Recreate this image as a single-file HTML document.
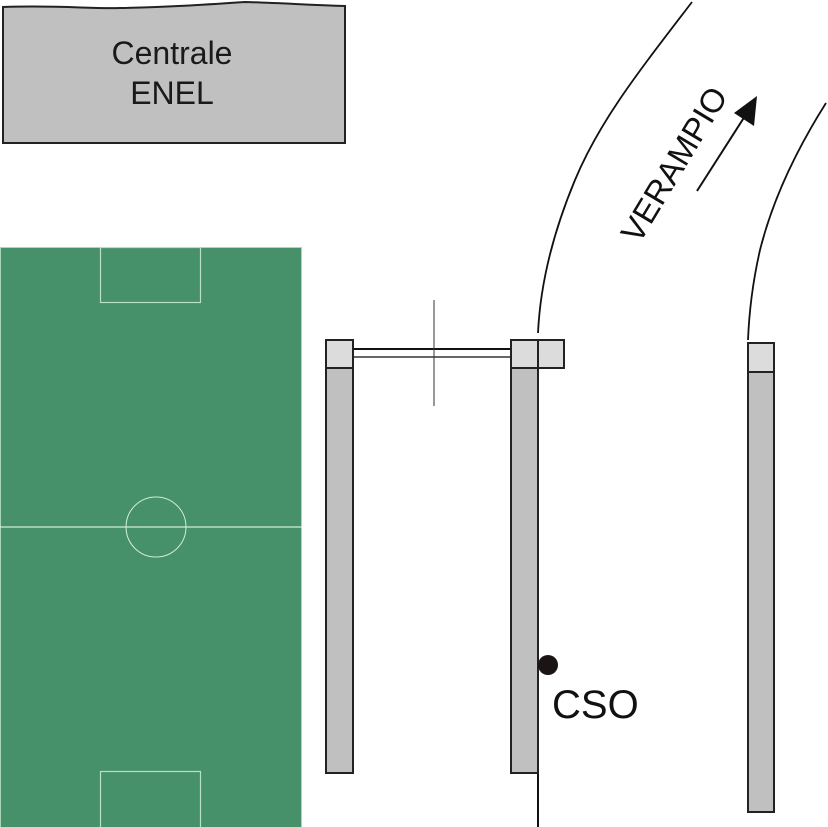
<!DOCTYPE html>
<html><head><style>html,body{margin:0;padding:0;background:#fff;}svg{display:block;}</style></head>
<body>
<svg width="828" height="827" viewBox="0 0 828 827" xmlns="http://www.w3.org/2000/svg">
<path d="M3,7 C60,5 90,9 120,8 C170,7 200,5 245,2 C280,3 310,5 345,6 L345,143 L3,143 Z" fill="#c0c0c0" stroke="#222" stroke-width="2"/>
<text x="172" y="64" font-family="Liberation Sans, sans-serif" font-size="32" text-anchor="middle" fill="#1a1a1a">Centrale</text>
<text x="172" y="104" font-family="Liberation Sans, sans-serif" font-size="32" text-anchor="middle" fill="#1a1a1a">ENEL</text>
<rect x="0" y="247" width="302" height="580" fill="#46906a"/>
<rect x="0.5" y="247.5" width="301" height="590" fill="none" stroke="#a8d8b8" stroke-width="1"/>
<rect x="100.5" y="247.5" width="100" height="55" fill="none" stroke="#b8e0c4" stroke-width="1.2"/>
<rect x="100.5" y="771.5" width="100" height="60" fill="none" stroke="#b8e0c4" stroke-width="1.2"/>
<line x1="0" y1="527" x2="302" y2="527" stroke="#d0ecd8" stroke-width="1.2"/>
<circle cx="156" cy="527" r="30" fill="none" stroke="#d0ecd8" stroke-width="1"/>
<path d="M692,2 C640,70 600,120 575,180 C550,240 540,290 538,333" fill="none" stroke="#111" stroke-width="1.8"/>
<path d="M826,103 C790,160 770,210 760,250 C752,285 749,315 748,340" fill="none" stroke="#111" stroke-width="1.8"/>
<line x1="538" y1="368" x2="538" y2="827" stroke="#111" stroke-width="2"/>
<line x1="353" y1="349" x2="511" y2="349" stroke="#111" stroke-width="2"/>
<line x1="353" y1="357" x2="511" y2="357" stroke="#333" stroke-width="1.5"/>
<line x1="434" y1="300" x2="434" y2="406" stroke="#333" stroke-width="1"/>
<rect x="326" y="368" width="27" height="405" fill="#c0c0c0" stroke="#222" stroke-width="2"/>
<rect x="326" y="340" width="27" height="28" fill="#dcdcdc" stroke="#222" stroke-width="2"/>
<rect x="511" y="368" width="27" height="405" fill="#c0c0c0" stroke="#222" stroke-width="2"/>
<rect x="511" y="340" width="27" height="28" fill="#dcdcdc" stroke="#222" stroke-width="2"/>
<rect x="538" y="340" width="26" height="28" fill="#dcdcdc" stroke="#222" stroke-width="2"/>
<rect x="748" y="372" width="26" height="440" fill="#c0c0c0" stroke="#222" stroke-width="2"/>
<rect x="748" y="343" width="26" height="29" fill="#dcdcdc" stroke="#222" stroke-width="2"/>
<circle cx="548" cy="665" r="10" fill="#1a1414"/>
<text x="552" y="718" font-family="Liberation Sans, sans-serif" font-size="40" fill="#111">CSO</text>
<text transform="translate(639,245) rotate(-59)" font-family="Liberation Sans, sans-serif" font-size="33" fill="#111">VERAMPIO</text>
<line x1="697" y1="191" x2="745" y2="116" stroke="#111" stroke-width="2"/>
<polygon points="757,96 754,126 734,113" fill="#111"/>
</svg>
</body></html>
